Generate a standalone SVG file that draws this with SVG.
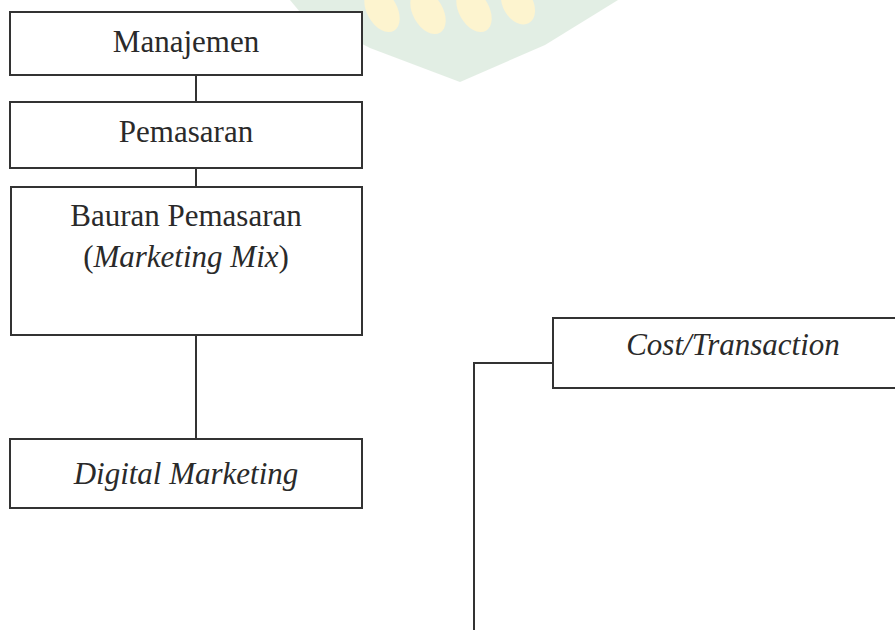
<svg xmlns="http://www.w3.org/2000/svg" width="895" height="630" viewBox="0 0 895 630">
  <style>
    .box { fill: #ffffff; stroke: #333333; stroke-width: 2; }
    .lbl { font-family: "Liberation Serif", "Times New Roman", serif; font-size: 31px; fill: #2a2a2a; text-anchor: middle; }
    .it { font-style: italic; }
    .conn { fill: none; stroke: #333333; stroke-width: 2; }
  </style>
  <rect x="0" y="0" width="895" height="630" fill="#ffffff"/>
  <g id="watermark" opacity="0.4">
    <polygon points="290,0 618,0 545,45 460,82 370,48 300,12" fill="#b9d6bd"/>
    <g fill="#fbe48a">
      <ellipse cx="382" cy="10" rx="15" ry="24" transform="rotate(-30 382 10)"/>
      <ellipse cx="428" cy="12" rx="15" ry="24" transform="rotate(-30 428 12)"/>
      <ellipse cx="474" cy="10" rx="15" ry="24" transform="rotate(-30 474 10)"/>
      <ellipse cx="518" cy="4" rx="15" ry="22" transform="rotate(-30 518 4)"/>
    </g>
  </g>
  <g id="connectors">
    <line class="conn" x1="196" y1="75" x2="196" y2="102"/>
    <line class="conn" x1="196" y1="168" x2="196" y2="187"/>
    <line class="conn" x1="196" y1="335" x2="196" y2="439"/>
    <polyline class="conn" points="553,363 474,363 474,630"/>
  </g>
  <g id="manajemen">
    <rect class="box" x="10" y="12" width="352" height="63"/>
    <text class="lbl" x="186" y="52">Manajemen</text>
  </g>
  <g id="pemasaran">
    <rect class="box" x="10" y="102" width="352" height="66"/>
    <text class="lbl" x="186" y="142">Pemasaran</text>
  </g>
  <g id="bauran">
    <rect class="box" x="11" y="187" width="351" height="148"/>
    <text class="lbl" x="186" y="226">Bauran Pemasaran</text>
    <text class="lbl" x="186" y="267">(<tspan class="it">Marketing Mix</tspan>)</text>
  </g>
  <g id="digital">
    <rect class="box" x="10" y="439" width="352" height="69"/>
    <text class="lbl it" x="186" y="484">Digital Marketing</text>
  </g>
  <g id="cost">
    <rect class="box" x="553" y="318" width="360" height="70"/>
    <text class="lbl it" x="733" y="355">Cost/Transaction</text>
  </g>
</svg>
